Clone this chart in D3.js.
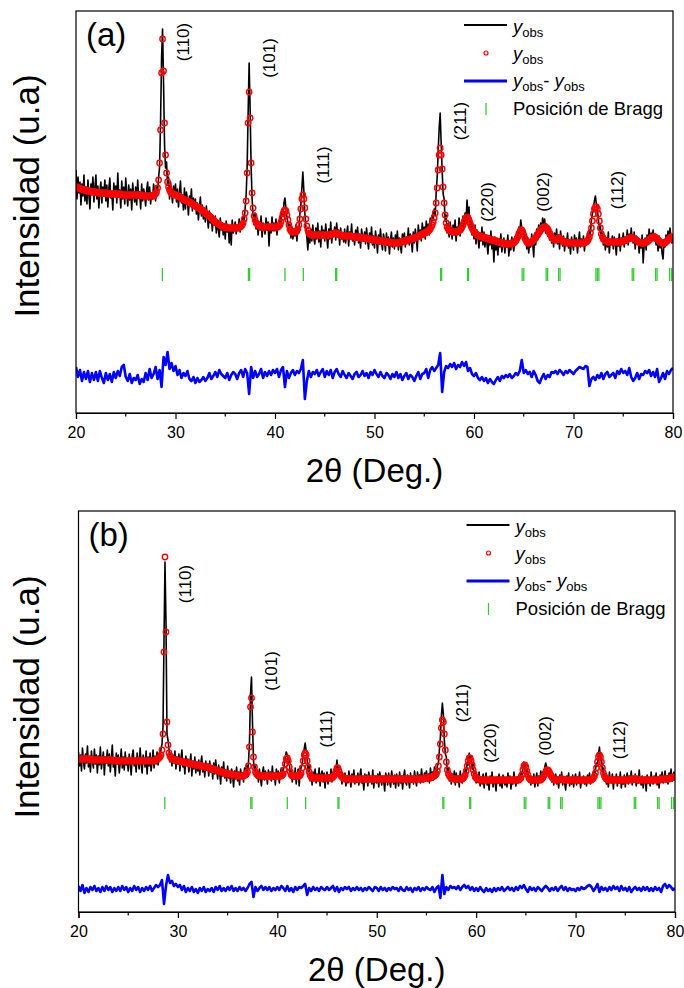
<!DOCTYPE html>
<html>
<head>
<meta charset="utf-8">
<script src="https://cdn.jsdelivr.net/npm/d3@7"></script>
<style>
  body { margin: 0; background: #fff; }
  svg { display: block; }
  text { font-family: "Liberation Sans", Arial, sans-serif; fill: #000; }
</style>
</head>
<body>
<script>
// 2θ grid of the patterns (degrees)
const START = 20;
const STEP = 0.1;       // observed / calculated profile step
const DIFF_STEP = 0.2;  // difference curve step

// ---------- Sample (a) ----------
const obsA = [
  243,214,236,220,231,208,229,217,238,212, // 20
  226,209,233,218,204,229,221,236,211,225, // 21
  238,214,227,205,222,231,210,226,217,233, // 22
  212,228,206,224,235,215,221,203,230,218, // 23
  227,210,240,216,223,205,232,214,226,209, // 24
  235,220,207,228,213,224,203,230,217,211, // 25
  226,208,233,215,221,204,229,212,224,218, // 26
  207,223,231,213,226,209,220,214,229,222, // 27
  212,226,222,235,246,292,355,384,330,268, // 28
  245,251,228,236,214,231,222,210,227,216, // 29
  229,211,224,206,220,232,210,218,203,225, // 30
  204,221,213,198,217,209,224,202,215,206, // 31
  214,199,210,193,206,216,197,208,194,204, // 32
  191,207,196,185,202,190,198,182,195,188, // 33
  197,180,192,184,176,195,183,190,178,188, // 34
  174,192,181,188,170,186,168,193,180,185, // 35
  191,179,188,183,194,181,190,186,197,193, // 36
  205,218,246,300,350,304,246,214,198,190, // 37
  200,184,193,178,191,183,197,176,190,185, // 38
  179,195,183,191,167,188,180,196,182,190, // 39
  182,194,178,189,185,196,190,203,197,210, // 40
  215,205,196,190,182,189,175,186,174,183, // 41
  177,188,172,186,183,199,208,225,241,222, // 42
  200,186,176,163,181,170,184,172,188,175, // 43
  169,185,174,190,171,182,166,187,176,183, // 44
  172,189,177,165,184,174,191,170,181,178, // 45
  186,173,190,176,183,168,185,174,180,171, // 46
  184,170,179,187,167,181,175,189,172,178, // 47
  168,183,174,186,170,179,165,184,176,172, // 48
  181,169,185,173,164,180,171,186,168,177, // 49
  165,182,174,160,178,169,184,171,163,179, // 50
  173,162,180,168,176,159,172,181,166,175, // 51
  164,178,170,182,163,175,168,160,179,171, // 52
  180,166,176,170,185,168,179,174,161,181, // 53
  170,184,176,162,188,177,183,172,190,179, // 54
  186,174,192,180,189,178,195,184,198,193, // 55
  204,198,221,236,262,285,300,270,242,219, // 56
  214,192,198,180,189,176,191,183,174,188, // 57
  179,193,172,186,181,195,177,190,184,197, // 58
  185,200,192,213,197,206,185,192,178,187, // 59
  174,188,169,183,176,165,180,172,186,168, // 60
  181,166,177,170,159,175,168,182,164,172, // 61
  151,176,163,171,158,174,166,179,161,169, // 62
  175,160,172,166,178,157,170,163,176,168, // 63
  162,176,170,181,173,186,180,193,185,176, // 64
  183,171,178,164,175,160,172,166,179,170, // 65
  156,180,168,184,176,188,179,190,183,195, // 66
  186,194,180,189,177,185,173,182,170,178, // 67
  166,180,171,184,169,178,164,182,173,167, // 68
  177,162,174,168,180,165,173,159,176,170, // 69
  163,178,169,175,160,172,181,166,174,168, // 70
  177,162,174,168,180,170,183,179,193,199, // 71
  205,212,217,209,203,194,184,188,172,180, // 72
  168,178,163,175,166,181,160,173,169,177, // 73
  164,176,170,158,174,167,179,162,175,171, // 74
  180,166,176,170,183,168,179,172,185,174, // 75
  170,181,164,177,169,174,160,172,165,178, // 76
  150,168,175,163,178,170,184,171,180,176, // 77
  183,172,179,168,175,162,177,165,173,160, // 78
  154,172,166,178,170,182,173,185,176,170, // 79
  178                                      // 80
];

const calcA = [
  226,226,225,225,224,224,224,223,223,223, // 20
  223,222,222,222,222,221,221,221,221,221, // 21
  221,221,220,220,220,220,220,220,220,220, // 22
  220,220,220,219,219,219,219,219,219,219, // 23
  219,219,219,219,219,219,218,218,218,218, // 24
  218,218,218,218,218,218,218,218,218,218, // 25
  218,218,218,218,218,218,218,217,217,217, // 26
  217,217,217,217,217,217,217,217,217,218, // 27
  219,221,225,233,250,283,340,374,342,290, // 28
  258,240,231,226,223,221,220,219,219,218, // 29
  218,218,217,217,216,216,215,214,214,213, // 30
  213,212,212,211,211,210,210,209,208,208, // 31
  207,206,206,205,205,204,203,203,202,201, // 32
  200,199,198,198,197,196,195,194,193,192, // 33
  191,190,190,189,188,188,187,187,186,186, // 34
  186,186,185,185,185,185,185,185,185,185, // 35
  185,185,185,185,186,186,187,188,190,194, // 36
  200,212,240,290,321,295,250,220,205,197, // 37
  193,190,189,188,187,187,186,186,186,186, // 38
  186,186,186,186,186,186,186,186,186,186, // 39
  186,186,186,186,187,188,191,195,199,202, // 40
  203,202,198,193,188,184,182,181,181,181, // 41
  181,181,182,184,188,194,204,214,218,214, // 42
  205,194,187,183,180,179,178,178,178,178, // 43
  178,178,178,178,178,178,178,178,178,178, // 44
  178,178,178,178,178,178,178,179,179,179, // 45
  180,180,180,179,179,178,178,178,177,177, // 46
  177,177,177,177,177,177,177,177,176,176, // 47
  176,176,176,176,176,175,175,175,175,175, // 48
  175,175,175,174,174,174,174,174,173,173, // 49
  173,173,173,173,172,172,172,172,172,172, // 50
  171,171,171,171,171,171,171,170,170,170, // 51
  170,170,170,170,170,171,171,171,171,172, // 52
  172,172,172,173,173,173,174,174,174,175, // 53
  175,175,176,176,177,177,178,178,179,179, // 54
  180,180,181,181,182,183,184,186,188,191, // 55
  195,200,210,225,243,258,265,258,244,226, // 56
  210,198,190,186,184,183,182,182,181,181, // 57
  181,181,181,181,182,182,183,184,186,188, // 58
  191,193,195,196,195,193,190,187,185,183, // 59
  181,180,179,178,178,177,177,176,176,176, // 60
  176,175,175,175,174,174,174,173,173,173, // 61
  173,172,172,172,171,171,171,170,170,170, // 62
  170,169,169,169,169,169,169,169,170,170, // 63
  170,171,172,174,176,179,181,183,183,181, // 64
  178,175,173,171,170,170,170,171,171,172, // 65
  173,174,175,177,178,180,181,183,184,185, // 66
  186,186,186,185,184,182,180,178,176,175, // 67
  174,173,173,173,174,175,175,174,173,172, // 68
  171,171,171,170,170,170,170,170,170,170, // 69
  170,170,170,170,170,170,170,170,170,170, // 70
  170,170,171,171,172,174,176,180,185,192, // 71
  199,204,206,206,204,199,192,185,179,176, // 72
  174,173,172,172,171,171,171,171,171,171, // 73
  171,171,171,171,171,171,171,171,171,172, // 74
  172,172,173,173,174,174,175,175,175,175, // 75
  175,174,174,173,172,171,171,170,170,170, // 76
  170,170,170,171,171,172,173,174,175,176, // 77
  176,176,176,175,174,173,172,171,170,170, // 78
  170,170,170,171,172,173,174,175,176,176, // 79
  174                                      // 80
];

const diffA = [
  8,-2,5,-6,3,   -4,4,-7,2,-5,   3,-6,4,-3,-8,   2,-5,1,-7,3,      // 20-23
  -3,4,-1,8,10,  -2,-6,1,-8,-3,  -5,0,-9,-4,-7,  2,-5,6,-3,1,      // 24-27
  8,-4,5,-12,18, 10,23,6,12,4,   9,0,5,-3,2,     -1,4,-4,-6,-2,    // 28-31
  -8,-3,-7,-5,-2, -6,-3,2,-4,-1, 3,-2,5,1,-1,    -3,2,-5,0,3,      // 32-35
  1,-4,2,5,-2,   6,2,-19,8,-3,   4,-2,1,6,-3,    3,-1,4,0,5,       // 36-39
  2,6,-2,5,8,    -12,4,-3,2,5,   0,4,2,6,15,     -24,-6,4,-2,3,    // 40-43
  1,5,-1,3,6,    -2,4,0,5,-3,    3,6,1,-2,4,     0,-3,2,-1,-4,     // 44-47
  1,3,-2,0,4,    -1,2,-3,3,0,    5,1,-2,3,-1,    -3,2,0,-4,1,      // 48-51
  -2,3,-3,1,-5,  -1,2,-4,0,-2,   -6,-1,3,-4,1,   2,6,-3,5,8,       // 52-55
  4,7,10,22,-17, 3,9,7,11,8,     12,6,10,8,13,   9,13,4,7,1,       // 56-59
  -1,2,-3,-5,-2, -6,-3,-8,-4,-7, -9,-5,-2,-6,-1, -3,0,-2,1,-3,     // 60-63
  -1,2,0,4,15,   2,5,1,3,-2,     4,0,-6,-8,-3,   1,-4,0,-2,3,      // 64-67
  2,4,1,5,3,     0,4,2,5,3,      1,4,6,8,7,      6,9,8,-11,-4,     // 68-71
  -2,-5,0,-3,2,  -4,1,3,-2,0,    2,-3,4,1,6,     2,4,0,7,-2,       // 72-75
  -6,-3,2,-4,1,  0,4,2,5,-1,     3,-2,6,-7,-3,   2,-4,4,1,5,       // 76-79
  7                                                                // 80
];

// ---------- Sample (b) ----------
const obsB = [
  160,146,157,141,164,150,143,158,149,166, // 20
  145,155,140,161,151,144,163,148,157,139, // 21
  156,147,165,143,152,160,137,155,149,162, // 22
  146,158,140,153,167,145,151,136,159,148, // 23
  157,139,150,163,144,155,142,160,147,153, // 24
  141,158,149,137,156,162,146,153,140,159, // 25
  150,143,164,148,139,157,151,145,161,138, // 26
  155,146,159,141,150,162,144,156,148,160, // 27
  147,158,152,163,168,185,272,350,290,178, // 28
  172,163,150,159,146,157,149,161,143,155, // 29
  148,158,141,153,162,145,151,138,156,147, // 30
  153,140,149,158,136,150,143,155,139,148, // 31
  141,152,137,149,156,140,148,135,151,143, // 32
  148,136,151,140,146,133,149,138,152,141, // 33
  133,147,139,128,145,136,150,134,142,131, // 34
  146,134,140,129,143,137,125,141,133,145, // 35
  131,140,127,143,135,139,130,144,138,147, // 36
  139,150,170,218,235,190,152,141,146,134, // 37
  140,130,143,134,126,139,145,132,141,137, // 38
  128,142,135,140,131,146,133,139,127,143, // 39
  134,141,129,138,144,136,142,147,155,160, // 40
  157,148,152,135,141,130,139,133,144,128, // 41
  137,143,126,140,145,147,158,163,169,161, // 42
  154,140,146,131,138,127,140,133,143,129, // 43
  138,131,144,126,137,141,130,139,124,136, // 44
  140,128,137,132,143,130,139,136,145,143, // 45
  152,141,145,134,140,128,137,131,139,126, // 46
  136,129,141,133,125,138,131,142,128,135, // 47
  130,139,127,136,143,129,134,122,138,132, // 48
  137,126,140,131,135,128,142,124,136,130, // 49
  129,138,125,140,133,127,136,131,121,139, // 50
  134,127,139,130,125,141,133,128,137,124, // 51
  138,131,126,140,129,136,123,135,142,130, // 52
  127,137,132,124,139,130,135,128,141,133, // 53
  126,140,131,137,129,143,134,130,139,136, // 54
  141,131,138,129,144,135,140,132,145,139, // 55
  135,146,149,162,175,196,209,198,172,158, // 56
  155,139,144,131,140,128,138,132,141,127, // 57
  139,130,136,125,141,133,129,138,134,143, // 58
  138,150,147,159,152,156,143,148,135,141, // 59
  129,137,131,140,126,135,128,138,124,134, // 60
  139,127,133,122,136,129,140,125,134,130, // 61
  121,135,129,138,126,133,124,137,130,127, // 62
  134,125,139,129,136,123,132,128,140,131, // 63
  126,135,129,137,131,140,134,145,150,144, // 64
  148,138,141,130,136,127,135,129,138,125, // 65
  133,139,126,136,130,141,134,140,137,145, // 66
  149,144,137,141,135,138,130,136,127,134, // 67
  138,128,135,124,137,131,140,127,134,129, // 68
  122,136,130,139,126,134,128,137,125,133, // 69
  138,127,135,129,140,124,133,130,136,128, // 70
  134,126,137,130,139,128,135,131,140,137, // 71
  142,149,146,158,165,152,155,140,144,131, // 72
  137,128,134,125,140,131,129,138,123,135, // 73
  130,138,126,135,129,140,124,133,128,137, // 74
  125,134,139,128,136,131,141,127,135,130, // 75
  138,126,134,129,142,130,127,136,124,133, // 76
  135,121,137,129,134,126,140,131,128,136, // 77
  130,139,127,135,124,137,133,140,129,134, // 78
  141,130,136,128,139,134,143,131,137,140, // 79
  136                                      // 80
];

const calcB = [
  153,153,153,153,153,153,153,153,153,153, // 20
  153,153,153,152,152,152,152,152,152,152, // 21
  152,152,152,152,152,152,152,152,152,152, // 22
  152,152,152,152,152,152,151,151,151,151, // 23
  151,151,151,151,151,151,151,151,151,151, // 24
  151,151,151,151,151,151,151,151,151,151, // 25
  151,151,151,151,151,151,151,151,151,151, // 26
  151,151,151,151,151,151,151,152,152,152, // 27
  153,154,155,157,162,178,260,355,280,190, // 28
  167,159,156,154,153,153,152,152,152,152, // 29
  151,151,151,151,150,150,150,150,149,149, // 30
  149,149,149,148,148,148,148,147,147,147, // 31
  147,147,146,146,146,146,145,145,145,145, // 32
  145,144,144,144,143,143,143,142,142,142, // 33
  141,141,141,140,140,140,139,139,139,138, // 34
  138,138,138,138,137,137,137,137,137,137, // 35
  136,136,136,136,136,136,136,137,137,138, // 36
  140,146,165,205,214,180,155,145,140,138, // 37
  137,137,136,136,136,136,136,136,136,136, // 38
  136,136,136,136,136,136,136,136,136,136, // 39
  136,136,136,136,136,137,138,142,148,153, // 40
  154,151,145,140,137,136,136,136,136,136, // 41
  136,136,136,137,139,144,151,157,159,157, // 42
  151,145,140,137,135,134,134,134,134,134, // 43
  134,134,134,134,134,134,134,134,134,134, // 44
  134,134,134,134,134,134,135,136,138,141, // 45
  144,144,141,138,136,135,134,134,133,133, // 46
  133,133,133,133,133,133,133,133,133,133, // 47
  133,133,133,133,133,133,133,133,133,133, // 48
  133,133,133,133,133,133,133,133,133,133, // 49
  133,133,133,133,133,133,133,133,133,133, // 50
  133,133,133,133,133,133,133,133,133,133, // 51
  133,133,133,133,133,133,133,133,133,133, // 52
  133,133,133,133,133,133,133,133,133,133, // 53
  133,133,133,133,133,133,133,133,134,134, // 54
  134,134,134,134,134,135,135,136,136,137, // 55
  138,141,146,155,168,184,192,190,178,162, // 56
  150,142,138,136,135,134,134,133,133,133, // 57
  133,133,133,133,133,133,133,134,135,137, // 58
  141,146,151,154,154,151,147,142,138,135, // 59
  134,133,133,132,132,132,132,132,132,132, // 60
  132,132,132,132,132,132,132,132,132,132, // 61
  132,132,132,132,132,132,132,132,132,132, // 62
  132,132,132,132,132,132,132,132,132,132, // 63
  132,132,132,132,133,134,137,142,146,147, // 64
  145,141,137,134,133,132,132,132,132,132, // 65
  132,132,132,132,132,132,133,134,136,138, // 66
  140,142,142,141,139,137,135,134,133,132, // 67
  132,132,132,132,132,133,133,133,132,132, // 68
  132,132,132,132,132,132,132,132,132,132, // 69
  132,132,132,132,132,132,132,132,132,132, // 70
  132,132,132,132,132,132,132,133,134,136, // 71
  139,144,150,155,157,155,150,144,139,136, // 72
  134,133,133,132,132,132,132,132,132,132, // 73
  132,132,132,132,132,132,132,132,132,132, // 74
  132,132,132,132,132,132,133,133,133,133, // 75
  133,133,133,132,132,132,132,132,132,132, // 76
  132,132,132,132,132,132,132,132,132,132, // 77
  132,132,132,132,132,132,133,133,133,133, // 78
  133,133,133,133,133,134,134,134,135,135, // 79
  135                                      // 80
];

const diffB = [
  3,-2,4,-4,1,   -3,2,-1,3,-2,   1,-3,2,-2,3,    -1,2,-3,1,-2,     // 20-23
  2,-2,3,-1,2,   -3,1,-2,3,-1,   2,-3,1,-2,2,    -1,3,-2,1,4,      // 24-27
  2,4,9,-15,3,   14,6,8,3,5,     2,4,-1,3,-3,    1,-2,2,-3,0,      // 28-31
  -4,1,-2,2,-3,  0,-2,1,-3,2,    -1,3,-2,1,-2,   2,-1,3,-2,1,      // 32-35
  -2,2,-1,1,-2,  1,5,7,-8,2,     -2,1,3,-1,2,    -1,2,-2,1,-1,     // 36-39
  2,-1,3,1,-2,   3,-2,1,-3,2,    -1,2,1,3,5,     -6,1,-2,2,-1,     // 40-43
  1,-2,2,0,-1,   2,-1,1,3,-2,    2,-3,1,-1,2,    0,2,-2,1,-1,      // 44-47
  2,-1,1,-2,1,   -1,2,0,-2,2,    1,-2,2,-1,1,    -2,1,-1,2,0,      // 48-51
  1,-2,2,-1,-2,  2,-1,1,-3,1,    -1,2,-2,1,-1,   2,0,-1,2,-3,      // 52-55
  1,3,-9,14,-5,  2,-1,3,1,2,     0,3,-1,2,4,     1,3,-1,2,-2,      // 56-59
  1,-2,2,-1,-3,  1,-2,0,-3,1,    -2,1,-1,2,-2,   0,2,-1,1,-2,      // 60-63
  2,-1,3,1,4,    0,-3,2,-1,1,    -2,2,0,-2,1,    3,1,-2,1,-1,      // 64-67
  2,-2,1,3,-1,   2,-2,1,-1,0,    -2,1,-1,2,0,    1,3,4,2,-2,       // 68-71
  1,5,-3,2,-1,   1,-2,2,-1,3,    0,2,-2,3,-1,    1,-2,2,-3,0,      // 72-75
  2,-1,1,-2,2,   -1,2,-2,1,-2,   2,-1,1,-3,3,    5,1,4,2,-1,       // 76-79
  1                                                                // 80
];

// Calculated Bragg reflection positions (2θ)
const braggPos = [28.68, 37.33, 37.45, 41.0, 42.85, 46.1, 46.2, 56.65, 56.75,
  59.35, 59.45, 64.84, 65.0, 67.25, 67.4, 68.5, 68.65, 72.25, 72.4, 72.55,
  75.9, 76.05, 78.25, 78.4, 79.65, 79.85];

// Indexed reflections
const hklLabels = ["(110)", "(101)", "(111)", "(211)", "(220)", "(002)", "(112)"];
const hklPos = [28.7, 37.4, 42.85, 56.6, 59.35, 64.9, 72.4];

// Axis ticks
const xMajor = [20, 30, 40, 50, 60, 70, 80];
const xMinorTicks = [25, 35, 45, 55, 65, 75];

const panelNames = ["(a)", "(b)"];

// ---------- layout ----------
const W = 684, H = 988;
const panels = [
  { name: panelNames[0], obs: obsA, calc: calcA, diff: diffA,
    x0: 76, x1: 673, top: 11, bottom: 413, yMax: 402, diffOffset: 38,
    braggTop: 268, braggBot: 281, titleY: 196,
    labelY: [42, 58, 165, 121, 202, 192, 190] },
  { name: panelNames[1], obs: obsB, calc: calcB, diff: diffB,
    x0: 78.5, x1: 675, top: 511, bottom: 912, yMax: 401, diffOffset: 23,
    braggTop: 797, braggBot: 809, titleY: 697,
    labelY: [584, 671, 729, 703, 743, 736, 740] }
];

const svg = d3.select("body").append("svg")
  .attr("width", W).attr("height", H)
  .attr("viewBox", `0 0 ${W} ${H}`);

svg.append("rect").attr("width", W).attr("height", H).attr("fill", "#fff");

panels.forEach((p, k) => {
  const x = d3.scaleLinear().domain([20, 80]).range([p.x0, p.x1]);
  const y = d3.scaleLinear().domain([0, p.yMax]).range([p.bottom, p.top]);
  const g = svg.append("g");

  const clipId = "clip" + k;
  svg.append("clipPath").attr("id", clipId)
    .append("rect")
    .attr("x", p.x0).attr("y", p.top)
    .attr("width", p.x1 - p.x0).attr("height", p.bottom - p.top);

  const plot = g.append("g").attr("clip-path", `url(#${clipId})`);

  // observed profile
  const obsLine = d3.line()
    .x((d, i) => x(START + i * STEP))
    .y(d => y(d));
  plot.append("path")
    .datum(p.obs)
    .attr("d", obsLine)
    .attr("fill", "none")
    .attr("stroke", "#000")
    .attr("stroke-width", 1.6)
    .attr("stroke-linejoin", "round");

  // calculated profile (open circles)
  plot.append("g").selectAll("circle")
    .data(p.calc)
    .join("circle")
    .attr("cx", (d, i) => x(START + i * STEP))
    .attr("cy", d => y(d))
    .attr("r", 2.7)
    .attr("fill", "none")
    .attr("stroke", "#ff0000")
    .attr("stroke-width", 1.4);

  // difference curve, shifted below the patterns
  const diffLine = d3.line()
    .x((d, i) => x(START + i * DIFF_STEP))
    .y(d => y(d + p.diffOffset));
  plot.append("path")
    .datum(p.diff)
    .attr("d", diffLine)
    .attr("fill", "none")
    .attr("stroke", "#0000ff")
    .attr("stroke-width", 2.6)
    .attr("stroke-linejoin", "round");

  // Bragg positions
  plot.append("g").selectAll("line")
    .data(braggPos)
    .join("line")
    .attr("x1", d => x(d)).attr("x2", d => x(d))
    .attr("y1", p.braggTop).attr("y2", p.braggBot)
    .attr("stroke", "#33cc33")
    .attr("stroke-width", 1.3);

  // frame
  g.append("rect")
    .attr("x", p.x0).attr("y", p.top)
    .attr("width", p.x1 - p.x0).attr("height", p.bottom - p.top)
    .attr("fill", "none")
    .attr("stroke", "#000")
    .attr("stroke-width", 1.2);

  // bottom axis
  const axis = g.append("g")
    .attr("transform", `translate(0,${p.bottom})`)
    .call(d3.axisBottom(x).tickValues(xMajor).tickSize(6).tickPadding(8)
      .tickFormat(d3.format("d")));
  axis.select(".domain").attr("stroke", "#000").attr("stroke-width", 1.2);
  axis.selectAll(".tick line").attr("stroke", "#000").attr("stroke-width", 1.2);
  axis.selectAll(".tick text")
    .attr("font-size", 16)
    .attr("font-family", "'Liberation Sans', Arial, sans-serif")
    .attr("fill", "#000");

  g.append("g").selectAll("line")
    .data(xMinorTicks)
    .join("line")
    .attr("x1", d => x(d)).attr("x2", d => x(d))
    .attr("y1", p.bottom).attr("y2", p.bottom + 3.5)
    .attr("stroke", "#000").attr("stroke-width", 1.2);

  // axis titles
  g.append("text")
    .attr("x", (p.x0 + p.x1) / 2)
    .attr("y", p.bottom + 69)
    .attr("text-anchor", "middle")
    .attr("font-size", 33)
    .text("2θ (Deg.)");

  g.append("text")
    .attr("transform", `translate(39,${p.titleY}) rotate(-90)`)
    .attr("text-anchor", "middle")
    .attr("font-size", 35)
    .text("Intensidad (u.a)");

  // panel letter
  g.append("text")
    .attr("x", p.x0 + 10)
    .attr("y", p.top + 35)
    .attr("font-size", 33)
    .text(p.name);

  // reflection labels
  g.append("g").selectAll("text")
    .data(hklLabels)
    .join("text")
    .attr("transform", (d, i) => `translate(${x(hklPos[i]) + 20},${p.labelY[i]}) rotate(-90)`)
    .attr("text-anchor", "middle")
    .attr("dy", "0.35em")
    .attr("font-size", 17)
    .text(d => d);

  // legend
  const lg = g.append("g").attr("transform", `translate(${p.x0 + 388},${p.top})`);
  const tx = 49;
  const fs = 18.5, sub = 13;

  lg.append("line").attr("x1", 0).attr("x2", 43).attr("y1", 14).attr("y2", 14)
    .attr("stroke", "#000").attr("stroke-width", 2);
  lg.append("circle").attr("cx", 22).attr("cy", 42).attr("r", 2)
    .attr("fill", "none").attr("stroke", "#ff0000").attr("stroke-width", 1.2);
  lg.append("line").attr("x1", 0).attr("x2", 43).attr("y1", 70).attr("y2", 70)
    .attr("stroke", "#0000ff").attr("stroke-width", 3);
  lg.append("line").attr("x1", 22).attr("x2", 22).attr("y1", 92).attr("y2", 104)
    .attr("stroke", "#33cc33").attr("stroke-width", 1.3);

  function yobs(t) {
    t.append("tspan").attr("font-style", "italic").text("y");
    t.append("tspan").attr("font-size", sub).attr("dy", 4).text("obs");
  }
  const t1 = lg.append("text").attr("x", tx).attr("y", 22).attr("font-size", fs);
  yobs(t1);
  const t2 = lg.append("text").attr("x", tx).attr("y", 49).attr("font-size", fs);
  yobs(t2);
  const t3 = lg.append("text").attr("x", tx).attr("y", 76).attr("font-size", fs);
  yobs(t3);
  t3.append("tspan").attr("dy", -4).text("- ");
  t3.append("tspan").attr("font-style", "italic").text("y");
  t3.append("tspan").attr("font-size", sub).attr("dy", 4).text("obs");
  lg.append("text").attr("x", tx).attr("y", 104).attr("font-size", fs)
    .text("Posición de Bragg");
});
</script>
</body>
</html>
